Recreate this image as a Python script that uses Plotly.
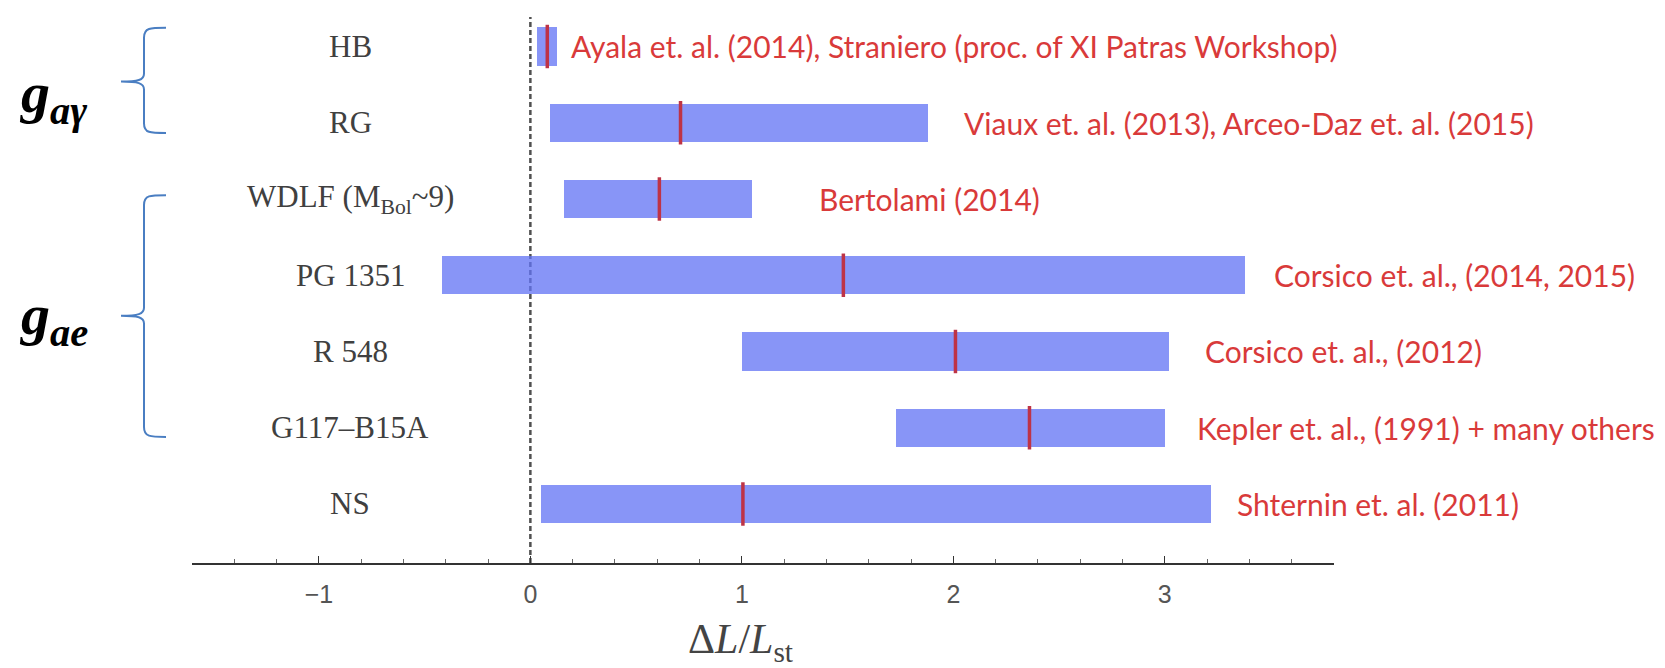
import plotly.graph_objects as go

# ---------------- data ----------------
labels = ["HB", "RG", "WDLF (M<sub>Bol</sub>~9)", "PG 1351", "R 548", "G117–B15A", "NS"]
low = [0.03, 0.095, 0.16, -0.42, 1.0, 1.73, 0.05]
high = [0.125, 1.88, 1.05, 3.38, 3.02, 3.0, 3.22]
central = [0.08, 0.71, 0.61, 1.48, 2.01, 2.36, 1.005]
refs = [
    "Ayala et. al. (2014), Straniero (proc. of XI Patras Workshop)",
    "Viaux et. al. (2013), Arceo-Daz et. al. (2015)",
    "Bertolami (2014)",
    "Corsico et. al., (2014, 2015)",
    "Corsico et. al., (2012)",
    "Kepler et. al., (1991) + many others",
    "Shternin et. al. (2011)",
]
tick_vals = [-1, 0, 1, 2, 3]
x_title = "Δ<i>L</i>/<i>L</i><sub>st</sub>"
groups = ["g<sub>aγ</sub>", "g<sub>ae</sub>"]

# ---------------- layout helpers (positions / styles, not data) ----------------
W, H = 1665, 668
ref_x = [0.185, 2.04, 1.355, 3.505, 3.18, 3.145, 3.33]   # left edge of reference texts (data units)
rows = list(range(len(labels)))


def px(x):
    return x / W


def py(y):
    return 1 - y / H


BAR = "rgba(98,116,244,0.76)"
RED = "#BE3346"
TXT = "#D93A3A"

fig = go.Figure()
fig.add_trace(go.Bar(
    y=rows, x=[h - l for l, h in zip(low, high)], base=low,
    orientation="h", width=0.5,
    marker=dict(color=BAR, line=dict(width=0)),
    hoverinfo="skip", showlegend=False,
))

# central values as short red vertical segments
sx, sy = [], []
for r, c in zip(rows, central):
    sx += [c, c, None]
    sy += [r - 0.285, r + 0.285, None]
fig.add_trace(go.Scatter(x=sx, y=sy, mode="lines",
                         line=dict(color=RED, width=3.5),
                         hoverinfo="skip", showlegend=False))

ann = []
for r, lab in zip(rows, labels):
    ann.append(dict(x=px(350), xref="paper", y=r, yref="y", text=lab,
                    showarrow=False, xanchor="center", yanchor="middle",
                    font=dict(family="Liberation Serif", size=31, color="#404040")))
for r, t, xx in zip(rows, refs, ref_x):
    ann.append(dict(x=xx, xref="x", y=r, yref="y", text=t,
                    showarrow=False, xanchor="left", yanchor="middle",
                    font=dict(family="Lato", size=30, color=TXT)))

# group labels
g_pos = [0.65, 3.57]
for g, yy in zip(groups, g_pos):
    ann.append(dict(x=px(17), xref="paper", y=yy, yref="y", text="<b><i>" + g + "</i></b>",
                    showarrow=False, xanchor="left", yanchor="middle",
                    font=dict(family="Liberation Serif", size=58, color="black")))

# x-axis title
ann.append(dict(x=px(740), xref="paper", y=py(642), yref="paper", text=x_title,
                showarrow=False, xanchor="center", yanchor="middle",
                font=dict(family="Liberation Serif", size=42, color="#444")))

shapes = [dict(type="line", xref="x", yref="y domain", x0=0, x1=0, y0=0, y1=1,
               line=dict(color="#505050", width=2.5, dash="5px,3px"), layer="below")]


def brace(top, mid, bot):
    xa, xv, xt = px(166), px(144), px(121)
    d = 0.13
    return (f"M {xa},{top} C {px(150)},{top} {xv},{top} {xv},{top + d} "
            f"L {xv},{mid - d * 0.8} C {xv},{mid - 0.02} {px(138)},{mid} {xt},{mid} "
            f"C {px(138)},{mid} {xv},{mid + 0.02} {xv},{mid + d * 0.8} "
            f"L {xv},{bot - d} C {xv},{bot} {px(150)},{bot} {xa},{bot}")


for (t, m, b) in [(-0.245, 0.46, 1.135), (1.95, 3.53, 5.12)]:
    shapes.append(dict(type="path", xref="paper", yref="y", path=brace(t, m, b),
                       line=dict(color="#4A7EC2", width=2)))

y_top_px, y_bot_px, r0_px, step_px = 17, 563, 46.5, 76.25

fig.update_layout(
    width=W, height=H, margin=dict(l=0, r=0, t=0, b=0),
    paper_bgcolor="white", plot_bgcolor="white",
    annotations=ann, shapes=shapes, bargap=0,
    xaxis=dict(domain=[px(192), px(1334)], range=[-1.6, 3.8],
               tickvals=tick_vals, ticks="inside", ticklen=7, tickwidth=1.3,
               tickcolor="#333", showline=True, linecolor="#333", linewidth=1.8,
               showgrid=False, zeroline=False, ticklabelstandoff=8,
               tickfont=dict(family="Liberation Sans", size=25, color="#555"),
               minor=dict(dtick=0.2, tick0=0, ticks="inside", ticklen=4,
                          tickcolor="#666", tickwidth=1, showgrid=False)),
    yaxis=dict(domain=[py(y_bot_px), py(y_top_px)],
               range=[(y_bot_px - r0_px) / step_px, (y_top_px - r0_px) / step_px],
               showticklabels=False, showgrid=False, zeroline=False,
               showline=False, ticks=""),
)

fig.write_html("out.html")
